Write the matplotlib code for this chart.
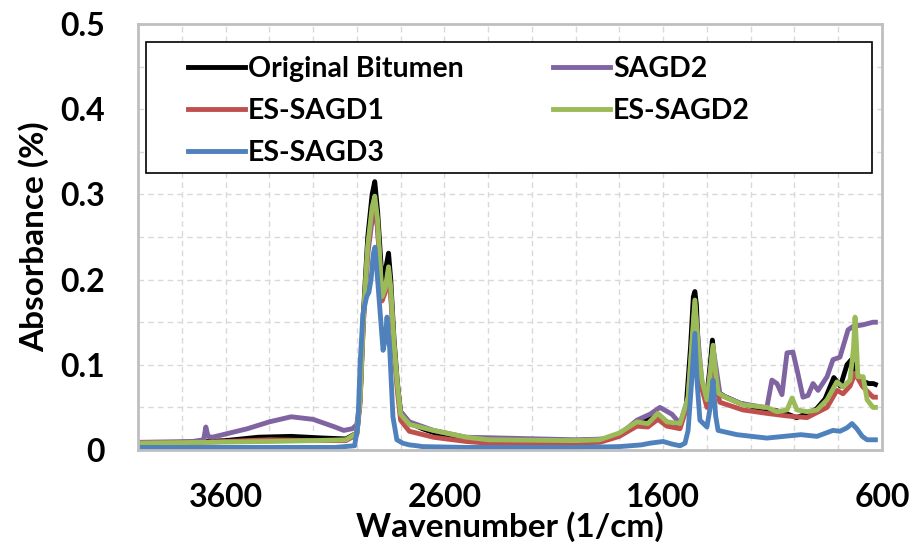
import numpy as np
import matplotlib
matplotlib.use("Agg")
from matplotlib import pyplot as plt
from matplotlib.ticker import MultipleLocator
from matplotlib.patches import Rectangle

plt.rcParams['font.family'] = ['Lato', 'DejaVu Sans']
plt.rcParams['font.weight'] = 'bold'

# Original Bitumen (black)
wn_orig = [4000, 3800, 3600, 3450, 3300, 3150, 3050, 3000, 2985, 2970, 2950, 2930, 2918, 2905,
           2885, 2870, 2855, 2845, 2830, 2815, 2800, 2760, 2700, 2600, 2500, 2400, 2200, 2000, 1850,
           1780, 1720, 1680, 1640, 1615, 1590, 1560, 1520, 1495, 1475, 1462, 1455, 1448, 1435,
           1420, 1400, 1385, 1375, 1365, 1350, 1320, 1250, 1150, 1080, 1030, 1010, 990, 950,
           900, 860, 820, 790, 760, 740, 720, 700, 680, 660, 640, 630]
abs_orig = [0.008, 0.009, 0.011, 0.015, 0.016, 0.014, 0.013, 0.02, 0.06, 0.16, 0.25, 0.30, 0.315, 0.28,
            0.20, 0.21, 0.231, 0.20, 0.13, 0.08, 0.045, 0.032, 0.025, 0.016, 0.013, 0.012, 0.012, 0.011, 0.013,
            0.02, 0.03, 0.036, 0.039, 0.040, 0.034, 0.03, 0.031, 0.05, 0.12, 0.18, 0.186, 0.17, 0.09,
            0.07, 0.064, 0.10, 0.129, 0.10, 0.068, 0.063, 0.055, 0.048, 0.046, 0.042, 0.04, 0.038, 0.042,
            0.048, 0.06, 0.085, 0.075, 0.10, 0.106, 0.09, 0.085, 0.08, 0.078, 0.078, 0.077]

# SAGD2 (purple)
wn_sagd2 = [4000, 3750, 3700, 3690, 3680, 3660, 3500, 3400, 3300, 3200, 3100, 3060, 3020, 3000,
            2985, 2970, 2950, 2930, 2918, 2905, 2885, 2870, 2855, 2845, 2830, 2815, 2800, 2760, 2650, 2500,
            2000, 1850, 1780, 1720, 1660, 1615, 1560, 1523, 1486, 1455, 1423, 1400, 1372, 1340,
            1250, 1140, 1126, 1103, 1080, 1057, 1034, 1007, 988, 961, 938, 915, 892, 851, 824,
            792, 755, 732, 686, 641, 630]
abs_sagd2 = [0.009, 0.01, 0.012, 0.027, 0.016, 0.015, 0.025, 0.033, 0.039, 0.036, 0.027, 0.023, 0.025, 0.03,
             0.06, 0.15, 0.23, 0.27, 0.285, 0.26, 0.18, 0.19, 0.205, 0.18, 0.12, 0.075, 0.045, 0.033, 0.023, 0.015,
             0.012, 0.013, 0.022, 0.035, 0.042, 0.05, 0.042, 0.031, 0.06, 0.17, 0.08, 0.06, 0.12, 0.065,
             0.055, 0.05, 0.05, 0.082, 0.078, 0.065, 0.114, 0.115, 0.094, 0.062, 0.064, 0.078, 0.07, 0.086, 0.106,
             0.109, 0.141, 0.145, 0.147, 0.15, 0.15]

# ES-SAGD1 (red)
wn_es1 = [4000, 3700, 3400, 3200, 3050, 3000, 2985, 2970, 2950, 2930, 2918, 2905, 2885, 2870,
          2855, 2845, 2830, 2815, 2800, 2760, 2650, 2500, 2400, 2000, 1890, 1800, 1720, 1670, 1624,
          1583, 1523, 1486, 1470, 1455, 1440, 1423, 1400, 1385, 1372, 1360, 1341, 1235, 1126,
          1034, 943, 851, 806, 778, 746, 723, 690, 641, 630]
abs_es1 = [0.008, 0.009, 0.012, 0.011, 0.011, 0.018, 0.055, 0.15, 0.235, 0.28, 0.29, 0.26, 0.175, 0.185,
           0.21, 0.185, 0.12, 0.07, 0.035, 0.022, 0.015, 0.01, 0.008, 0.008, 0.009, 0.016, 0.028, 0.027, 0.036,
           0.028, 0.025, 0.055, 0.11, 0.17, 0.11, 0.072, 0.05, 0.085, 0.118, 0.08, 0.056, 0.047, 0.043,
           0.04, 0.038, 0.05, 0.07, 0.066, 0.075, 0.09, 0.075, 0.062, 0.062]

# ES-SAGD2 (green)
wn_es2 = [4000, 3700, 3400, 3200, 3050, 3000, 2985, 2970, 2950, 2930, 2918, 2905, 2885, 2870,
          2855, 2845, 2830, 2815, 2800, 2760, 2650, 2500, 2400, 2000, 1890, 1800, 1720, 1670, 1624,
          1583, 1523, 1486, 1470, 1455, 1440, 1423, 1400, 1385, 1372, 1360, 1349, 1308, 1235,
          1126, 1080, 1034, 1011, 988, 943, 897, 851, 806, 778, 746, 730, 723, 716, 710, 686,
          668, 641, 630]
abs_es2 = [0.008, 0.009, 0.01, 0.011, 0.012, 0.02, 0.06, 0.155, 0.24, 0.285, 0.298, 0.27, 0.18, 0.19,
           0.215, 0.19, 0.125, 0.078, 0.042, 0.03, 0.023, 0.015, 0.012, 0.011, 0.012, 0.02, 0.033, 0.031, 0.043,
           0.033, 0.031, 0.062, 0.12, 0.176, 0.12, 0.082, 0.059, 0.09, 0.123, 0.09, 0.067, 0.061, 0.053,
           0.05, 0.045, 0.047, 0.061, 0.047, 0.045, 0.047, 0.059, 0.080, 0.074, 0.082, 0.12, 0.156, 0.12,
           0.086, 0.086, 0.059, 0.050, 0.050]

# ES-SAGD3 (blue)
wn_es3 = [4000, 3100, 3010, 2995, 2985, 2972, 2955, 2945, 2935, 2925, 2917, 2905, 2893, 2880,
          2870, 2862, 2850, 2835, 2817, 2790, 2760, 2725, 2700, 2500, 2000, 1800, 1700, 1660,
          1600, 1560, 1523, 1500, 1486, 1470, 1455, 1445, 1432, 1400, 1385, 1372, 1360, 1349,
          1263, 1126, 971, 897, 824, 792, 760, 737, 715, 690, 668, 641, 630]
abs_es3 = [0.003, 0.003, 0.005, 0.03, 0.10, 0.16, 0.18, 0.185, 0.2, 0.23, 0.238, 0.2, 0.16, 0.117,
           0.13, 0.156, 0.12, 0.039, 0.012, 0.008, 0.006, 0.005, 0.004, 0.003, 0.003, 0.004, 0.006, 0.008,
           0.01, 0.007, 0.005, 0.008, 0.023, 0.08, 0.137, 0.08, 0.035, 0.027, 0.05, 0.082, 0.04, 0.023,
           0.018, 0.014, 0.018, 0.016, 0.023, 0.022, 0.026, 0.031, 0.025, 0.016, 0.012, 0.012, 0.012]

series = [
    ("Original Bitumen", wn_orig, abs_orig, "#000000"),
    ("SAGD2", wn_sagd2, abs_sagd2, "#8064A2"),
    ("ES-SAGD1", wn_es1, abs_es1, "#C0504D"),
    ("ES-SAGD2", wn_es2, abs_es2, "#9BBB59"),
    ("ES-SAGD3", wn_es3, abs_es3, "#4F81BD"),
]

fig = plt.figure(figsize=(9.17, 5.51), dpi=100)
ax = fig.add_axes([0.1505, 0.1833, 0.8113, 0.7731])

handles = {}
for name, wn, ab, col in series:
    ln, = ax.plot(wn, ab, color=col, lw=3.5, label=name, solid_joinstyle='round')
    handles[name] = ln

ax.set_xlim(4000, 600)
ax.set_ylim(0, 0.5)
ax.xaxis.set_major_locator(MultipleLocator(1000, offset=600))
ax.xaxis.set_minor_locator(MultipleLocator(200))
ax.yaxis.set_major_locator(MultipleLocator(0.1))
ax.yaxis.set_minor_locator(MultipleLocator(0.05))
ax.yaxis.set_major_formatter(plt.FuncFormatter(lambda v, p: "0" if v == 0 else f"{v:.1f}"))
ax.grid(which='both', color='#d9d9d9', ls=(0, (4, 3)), lw=1)
ax.set_axisbelow(True)
ax.tick_params(which='both', length=0, labelsize=23, pad=24)
for s in ax.spines.values():
    s.set_color('#bfbfbf')
    s.set_linewidth(2)

ax.set_xlabel("Wavenumber (1/cm)", fontsize=24, fontweight='bold', labelpad=-1)
ax.set_ylabel("Absorbance (%)", fontsize=24, fontweight='bold', labelpad=8)

# legend frame drawn by hand, entries placed inside it
ax.add_patch(Rectangle((0.011, 0.650), 0.976, 0.308, transform=ax.transAxes,
                       facecolor='white', edgecolor='black', lw=1.2, zorder=5))
order = ["Original Bitumen", "ES-SAGD1", "ES-SAGD3", "SAGD2", "ES-SAGD2"]
leg = ax.legend([handles[n] for n in order], order, ncol=2, loc='center left',
                bbox_to_anchor=(0.0672, 0.796), frameon=False,
                fontsize=20.5, handlelength=2.0, handletextpad=0.1,
                labelspacing=0.55, columnspacing=3.15, borderpad=0, borderaxespad=0)
leg.set_zorder(6)

fig.savefig("out.png", dpi=100)
